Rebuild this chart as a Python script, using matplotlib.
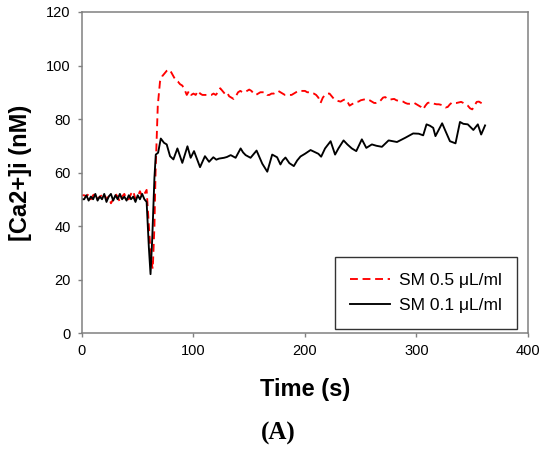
import matplotlib
matplotlib.use("Agg")
import matplotlib.pyplot as plt

# ---- data ----
t_black = [0, 2, 4, 6, 8, 10, 12, 14, 16, 18, 20, 22, 24, 26, 28, 30, 32, 34, 36, 38,
           40, 42, 44, 46, 48, 50, 52, 54, 56, 58, 60, 61.5, 63, 65, 66.2, 68.3, 70.7, 73.6, 76, 79,
           82, 85.6, 90, 94.6, 97.5, 100.5, 105.9, 110.3, 114, 117.8, 120.5, 122.9, 127.4, 130, 133.4, 137.8,
           142.3, 144.5, 146.8, 151.2, 156.6, 161.7, 166.2, 170.6, 175, 178, 180, 182.5, 186, 190, 193, 196,
           200, 205, 209, 212, 214.5, 218, 223, 227, 230, 234.6, 238, 242, 246, 251, 255, 260, 264, 269,
           275, 282.5, 290, 297, 302, 306, 309, 312, 315, 317, 323, 326, 330, 335, 339, 342, 346, 351,
           355, 358, 361.5]
v_black = [50, 50, 51.5, 49.5, 51, 50, 52, 49.5, 51, 50, 52, 49, 51, 52, 49.5, 51.5, 50, 52, 50, 51,
           49.5, 51.5, 50, 51, 49, 51.5, 50, 52, 50, 49, 32, 22, 35, 58, 66.7, 67.4, 72.7, 71.1, 70.5, 66.1,
           64.9, 69, 63.6, 69.8, 65.5, 68, 62, 66.1, 64, 65.7, 64.8, 65.2, 65.5, 65.8, 66.5, 65.5,
           69, 67.5, 66.5, 65.5, 68.2, 63.3, 60.3, 66.7, 65.7, 63, 64.5, 65.6, 63.5, 62.4, 64.5, 66,
           67, 68.4, 67.6, 67, 65.9, 69, 71.7, 66.7, 69, 72, 70.5, 69, 68, 72.4, 69.2, 70.5, 70, 69.6,
           72, 71.4, 73, 74.6, 74.5, 73.9, 78, 77.5, 76.7, 73.6, 78.4, 75.5, 71.7, 70.9, 78.9, 78.2, 78, 75.9,
           78, 74.2, 77.6]

t_red = [0, 2, 4, 6, 8, 10, 12, 14, 16, 18, 20, 22, 24, 26, 28, 30, 32, 34, 36, 38,
         40, 42, 44, 46, 48, 50, 52, 54, 56, 58, 60, 62, 63.5, 65, 66, 67, 68, 70, 72, 74,
         76, 78, 80, 82, 84, 86, 88, 90, 92, 94, 96, 98, 100, 102, 104, 106, 108, 110, 112, 114,
         116, 118, 120, 122, 124, 126, 128, 130, 132, 134, 136, 138, 140, 142, 144, 146, 148, 150, 152, 154,
         156, 158, 160, 162, 164, 166, 168, 170, 172, 174, 176, 178, 180, 182, 184, 186, 188, 190, 192, 194,
         196, 198, 200, 202, 204, 206, 208, 210, 212, 214, 216, 218, 220, 222, 224, 226, 228, 230, 232, 234,
         236, 238, 240, 242, 244, 246, 248, 250, 252, 254, 256, 258, 260, 262, 264, 266, 268, 270, 272, 274,
         276, 278, 280, 282, 284, 286, 288, 290, 292, 294, 296, 298, 300, 302, 304, 306, 308, 310, 312, 314,
         316, 318, 320, 322, 324, 326, 328, 330, 332, 334, 336, 338, 340, 342, 344, 346, 348, 350, 352, 354,
         356, 358, 360, 362]
v_red = [51.5, 51.5, 51, 52, 50, 51.5, 52, 50, 51, 51.5, 52, 50, 51, 48.5, 50, 52, 51, 49, 51, 52,
         50, 50, 52, 53, 50, 51, 53, 51, 52, 53.5, 40, 27, 24, 40, 60, 72, 85, 94, 96, 97,
         98, 98.5, 97.5, 96, 94.5, 94, 93, 92.5, 91, 89, 90.5, 89, 89.5, 89, 90.5, 89.5, 89, 89, 89, 89,
         89, 89.5, 89, 90, 91.5, 90.5, 89.5, 90, 88.5, 88, 87.5, 88.5, 90, 90.5, 90, 90, 90.5, 91, 90.5, 89.5,
         89, 89.5, 90, 90, 90, 89, 89, 89.5, 89.5, 90, 90.5, 90, 89.5, 89, 89, 89, 89, 89.5, 90, 90.5,
         90.5, 90.5, 90.5, 90, 90, 89.5, 89.5, 89, 88, 86, 88, 89, 89.5, 89.5, 88.5, 87.5, 87, 86.7, 86.5, 87,
         87.4, 86.5, 85, 85.5, 86, 86.5, 86.5, 87, 87.2, 87.4, 87.4, 87, 86.5, 86, 86, 86.2, 87, 88, 88.2, 87.5,
         87.2, 87.4, 87.5, 87, 86.8, 86.7, 86.5, 86, 85.7, 85.7, 85.8, 86, 85.5, 85, 84.5, 83.6, 85, 86, 86.2, 86,
         85.7, 85.5, 85.5, 85.3, 85, 84.3, 84.5, 85.5, 86.2, 86, 86, 86.2, 86.4, 86, 85.5, 85, 84, 83.6, 85, 86.4,
         86.5, 86, 85.5, 85]

label_red = "SM 0.5 \u03bcL/ml"
label_black = "SM 0.1 \u03bcL/ml"
x_ticks = [0, 100, 200, 300, 400]
y_ticks = [0, 20, 40, 60, 80, 100, 120]

plt.rcParams['font.family'] = ['Liberation Sans', 'DejaVu Sans']

fig = plt.figure(figsize=(5.5, 4.51), dpi=100)
ax = fig.add_axes([0.149, 0.2616, 0.811, 0.7118])

ax.plot(t_red, v_red, color='#ff0000', lw=1.35, dashes=(4.2, 2.5), label=label_red)
ax.plot(t_black, v_black, color='black', lw=1.35, label=label_black)

ax.set_xlim(0, 400)
ax.set_ylim(0, 120)
ax.set_xticks(x_ticks)
ax.set_yticks(y_ticks)
ax.tick_params(direction='out', length=3, width=1, color='#808080', labelsize=10.5, pad=5)
for s in ax.spines.values():
    s.set_color('#808080')
    s.set_linewidth(1.1)

ax.set_xlabel('Time (s)', fontsize=17, fontweight='bold', labelpad=14)
ax.set_ylabel('[Ca2+]i (nM)', fontsize=17, fontweight='bold', labelpad=10)

leg = ax.legend(loc='lower right', bbox_to_anchor=(0.976, 0.014), borderaxespad=0,
                fontsize=12.5, frameon=True, fancybox=False, edgecolor='black',
                handlelength=2.3, handletextpad=0.5, borderpad=0.9, labelspacing=0.55)
leg.get_frame().set_linewidth(1.0)

fig.text(0.505, 0.04, '(A)', family=['Liberation Serif', 'DejaVu Serif'],
         fontsize=18, fontweight='bold', ha='center', va='center')

fig.savefig('out.png', dpi=100, facecolor='white')
